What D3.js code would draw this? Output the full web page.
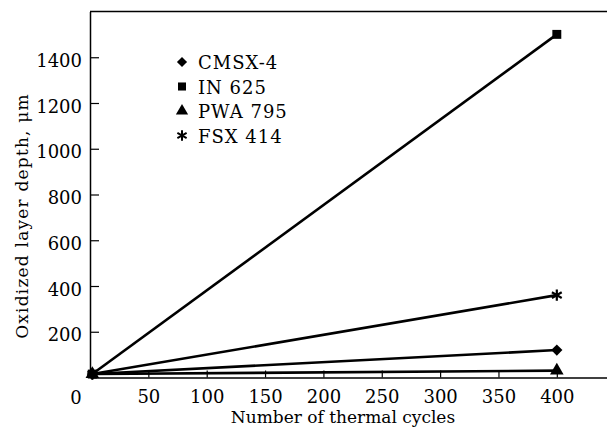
<!DOCTYPE html>
<html>
<head>
<meta charset="utf-8">
<script src="https://cdn.jsdelivr.net/npm/d3@7"></script>
<style>
  body { margin: 0; background: #fff; }
  svg text { font-family: 'DejaVu Serif', serif; fill: #000; }
</style>
</head>
<body>
<svg id="chart" width="607" height="428"></svg>
<script>
// data
const cycles = [2, 400]
const cmsx4 = [15, 120]
const in625 = [15, 1500]
const pwa795 = [15, 30]
const fsx414 = [15, 360]

const seriesNames = ['CMSX-4', 'IN 625', 'PWA 795', 'FSX 414']
const seriesShapes = [d3.symbolDiamond2, d3.symbolSquare, d3.symbolTriangle, d3.symbolAsterisk]
const seriesValues = [cmsx4, in625, pwa795, fsx414]

const xTicks = [50, 100, 150, 200, 250, 300, 350, 400]
const yTicks = [200, 400, 600, 800, 1000, 1200, 1400]

const svg = d3.select('#chart')

const x = d3.scaleLinear().domain([0, 443]).range([90, 607])
const y = d3.scaleLinear().domain([0, 1600]).range([377.5, 11.5])

// x axis, ticks pointing inward
const xAxis = svg.append('g')
    .attr('transform', `translate(0,${y(0)})`)
    .call(d3.axisBottom(x).tickValues(xTicks).tickFormat(d3.format('d'))
        .tickSizeInner(-7).tickSizeOuter(0).tickPadding(13))
xAxis.select('.domain').attr('stroke-width', 1.5)

const yAxis = svg.append('g')
    .attr('transform', `translate(${x(0)},0)`)
    .call(d3.axisLeft(y).tickValues(yTicks).tickFormat(d3.format('d'))
        .tickSizeInner(-9).tickSizeOuter(0).tickPadding(8))
yAxis.select('.domain').attr('stroke-width', 1.5)
yAxis.selectAll('.tick text').attr('dy', '0.5em')

svg.selectAll('.tick text').attr('font-size', 18)
svg.selectAll('.tick line').attr('stroke-width', 1.2)

// top border
svg.append('line')
    .attr('x1', x(0)).attr('x2', x(443))
    .attr('y1', y(1600)).attr('y2', y(1600))
    .attr('stroke', '#000').attr('stroke-width', 1.5)

// origin label
svg.append('text')
    .attr('x', 76).attr('y', 404)
    .attr('text-anchor', 'middle')
    .attr('font-size', 18)
    .text('0')

// lines
const line = d3.line()
    .x((d, i) => x(cycles[i]))
    .y(d => y(d))

seriesValues.forEach((vals, k) => {
    svg.append('path')
        .datum(vals)
        .attr('d', line)
        .attr('fill', 'none')
        .attr('stroke', '#000')
        .attr('stroke-width', 2.6)

    svg.selectAll(null)
        .data(vals)
        .enter().append('path')
        .attr('transform', (d, i) => `translate(${x(cycles[i])},${y(d)})`)
        .attr('d', d3.symbol().type(seriesShapes[k]).size(k == 3 ? 90 : 80))
        .attr('fill', '#000')
        .attr('stroke', '#000')
        .attr('stroke-width', k == 3 ? 2.2 : 0)
})

// legend
const legend = svg.append('g')
seriesNames.forEach((name, k) => {
    const ly = 62 + k * 24.5
    legend.append('path')
        .attr('transform', `translate(182,${ly})`)
        .attr('d', d3.symbol().type(seriesShapes[k]).size(k == 3 ? 80 : 65))
        .attr('fill', '#000')
        .attr('stroke', '#000')
        .attr('stroke-width', k == 3 ? 2 : 0)
    legend.append('text')
        .attr('x', 198).attr('y', ly + 7)
        .attr('font-size', 18)
        .attr('letter-spacing', 1)
        .text(name)
})

// axis titles
svg.append('text')
    .attr('x', 343).attr('y', 423)
    .attr('text-anchor', 'middle')
    .attr('font-size', 17)
    .text('Number of thermal cycles')

svg.append('text')
    .attr('transform', 'translate(28,216) rotate(-90)')
    .attr('text-anchor', 'middle')
    .attr('font-size', 17)
    .attr('letter-spacing', 1.2)
    .text('Oxidized layer depth, μm')
</script>
</body>
</html>
